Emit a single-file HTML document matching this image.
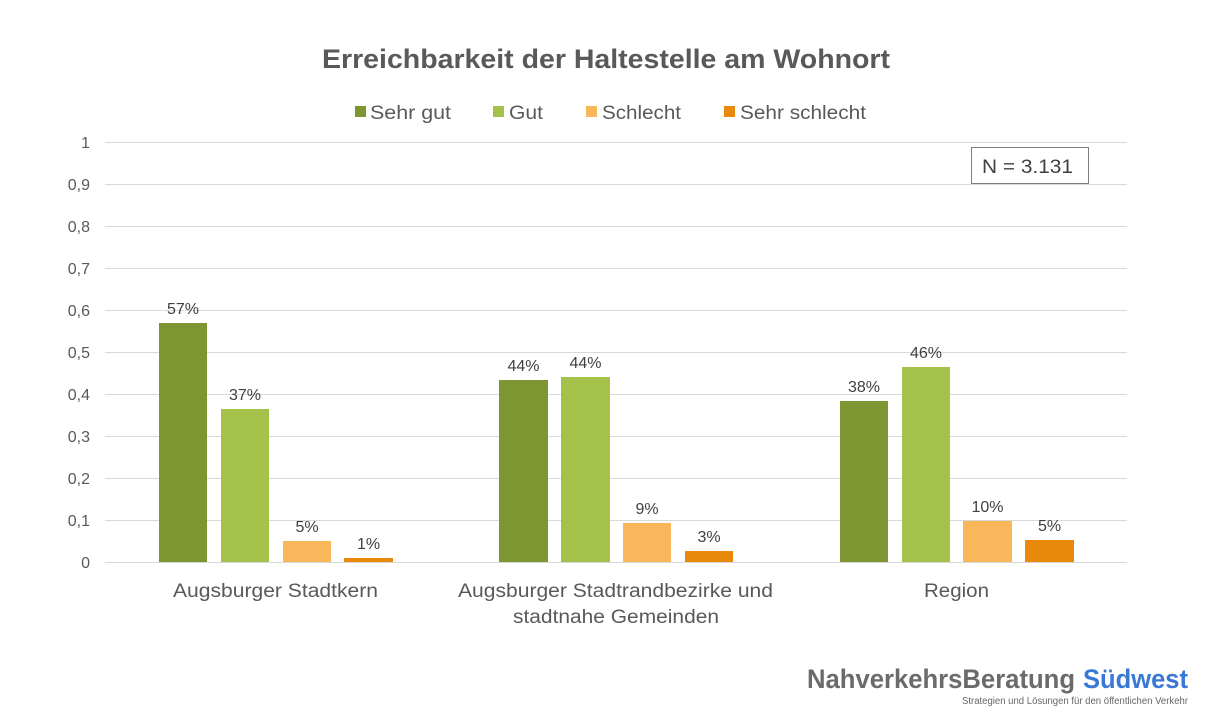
<!DOCTYPE html>
<html><head><meta charset="utf-8"><style>
html,body{margin:0;padding:0;background:#fff;}
svg{display:block;}
text{font-family:"Liberation Sans",sans-serif;}
</style></head><body>
<svg width="1232" height="720" viewBox="0 0 1232 720" xmlns="http://www.w3.org/2000/svg">
<rect width="1232" height="720" fill="#fff"/>
<!-- title -->
<text x="322" y="68" font-size="27" font-weight="bold" fill="#595959" textLength="568" lengthAdjust="spacingAndGlyphs">Erreichbarkeit der Haltestelle am Wohnort</text>
<!-- legend -->
<rect x="355" y="106" width="11" height="11" fill="#7e9632"/>
<text x="370" y="119" font-size="19" fill="#595959" textLength="81" lengthAdjust="spacingAndGlyphs">Sehr gut</text>
<rect x="493" y="106" width="11" height="11" fill="#a4c24a"/>
<text x="509" y="119" font-size="19" fill="#595959" textLength="34" lengthAdjust="spacingAndGlyphs">Gut</text>
<rect x="586" y="106" width="11" height="11" fill="#f9b65a"/>
<text x="602" y="119" font-size="19" fill="#595959" textLength="79" lengthAdjust="spacingAndGlyphs">Schlecht</text>
<rect x="724" y="106" width="11" height="11" fill="#e8890c"/>
<text x="740" y="119" font-size="19" fill="#595959" textLength="126" lengthAdjust="spacingAndGlyphs">Sehr schlecht</text>
<!-- gridlines -->
<g stroke="#d9d9d9" stroke-width="1">
<line x1="105" x2="1127" y1="142.5" y2="142.5"/>
<line x1="105" x2="1127" y1="184.5" y2="184.5"/>
<line x1="105" x2="1127" y1="226.5" y2="226.5"/>
<line x1="105" x2="1127" y1="268.5" y2="268.5"/>
<line x1="105" x2="1127" y1="310.5" y2="310.5"/>
<line x1="105" x2="1127" y1="352.5" y2="352.5"/>
<line x1="105" x2="1127" y1="394.5" y2="394.5"/>
<line x1="105" x2="1127" y1="436.5" y2="436.5"/>
<line x1="105" x2="1127" y1="478.5" y2="478.5"/>
<line x1="105" x2="1127" y1="520.5" y2="520.5"/>
<line x1="105" x2="1127" y1="562.5" y2="562.5"/>
</g>
<!-- y tick labels -->
<g font-size="16" fill="#595959" text-anchor="end">
<text x="90" y="148">1</text>
<text x="90" y="190">0,9</text>
<text x="90" y="232">0,8</text>
<text x="90" y="274">0,7</text>
<text x="90" y="316">0,6</text>
<text x="90" y="358">0,5</text>
<text x="90" y="400">0,4</text>
<text x="90" y="442">0,3</text>
<text x="90" y="484">0,2</text>
<text x="90" y="526">0,1</text>
<text x="90" y="568">0</text>
</g>
<!-- N box -->
<rect x="971.5" y="147.5" width="117" height="36" fill="#fff" stroke="#7f7f7f" stroke-width="1"/>
<text x="982" y="173" font-size="19" fill="#404040" textLength="91" lengthAdjust="spacingAndGlyphs">N = 3.131</text>
<!-- bars -->
<g>
<rect x="159" y="323" width="48" height="239" fill="#7e9632"/>
<rect x="221" y="409" width="48" height="153" fill="#a4c24a"/>
<rect x="283" y="541" width="48" height="21" fill="#f9b65a"/>
<rect x="344" y="558" width="49" height="4" fill="#e8890c"/>

<rect x="499" y="380" width="49" height="182" fill="#7e9632"/>
<rect x="561" y="377" width="49" height="185" fill="#a4c24a"/>
<rect x="623" y="523" width="48" height="39" fill="#f9b65a"/>
<rect x="685" y="551" width="48" height="11" fill="#e8890c"/>

<rect x="840" y="401" width="48" height="161" fill="#7e9632"/>
<rect x="902" y="367" width="48" height="195" fill="#a4c24a"/>
<rect x="963" y="521" width="49" height="41" fill="#f9b65a"/>
<rect x="1025" y="540" width="49" height="22" fill="#e8890c"/>
</g>
<!-- value labels -->
<g font-size="16" fill="#404040" text-anchor="middle">
<text x="183" y="314">57%</text>
<text x="245" y="400">37%</text>
<text x="307" y="532">5%</text>
<text x="368.5" y="549">1%</text>
<text x="523.5" y="371">44%</text>
<text x="585.5" y="368">44%</text>
<text x="647" y="514">9%</text>
<text x="709" y="542">3%</text>
<text x="864" y="392">38%</text>
<text x="926" y="358">46%</text>
<text x="987.5" y="512">10%</text>
<text x="1049.5" y="531">5%</text>
</g>
<!-- category labels -->
<g font-size="19" fill="#595959">
<text x="173" y="597" textLength="205" lengthAdjust="spacingAndGlyphs">Augsburger Stadtkern</text>
<text x="458" y="597" textLength="315" lengthAdjust="spacingAndGlyphs">Augsburger Stadtrandbezirke und</text>
<text x="513" y="623" textLength="206" lengthAdjust="spacingAndGlyphs">stadtnahe Gemeinden</text>
<text x="924" y="597" textLength="65" lengthAdjust="spacingAndGlyphs">Region</text>
</g>
<!-- logo -->
<text x="807" y="688" font-size="27" font-weight="bold" fill="#6b6b6b" textLength="268" lengthAdjust="spacingAndGlyphs">NahverkehrsBeratung</text>
<text x="1083" y="688" font-size="27" font-weight="bold" fill="#3a78d6" textLength="105" lengthAdjust="spacingAndGlyphs">Südwest</text>
<text x="962" y="704" font-size="10" fill="#666" textLength="226" lengthAdjust="spacingAndGlyphs">Strategien und Lösungen für den öffentlichen Verkehr</text>
</svg>
</body></html>
